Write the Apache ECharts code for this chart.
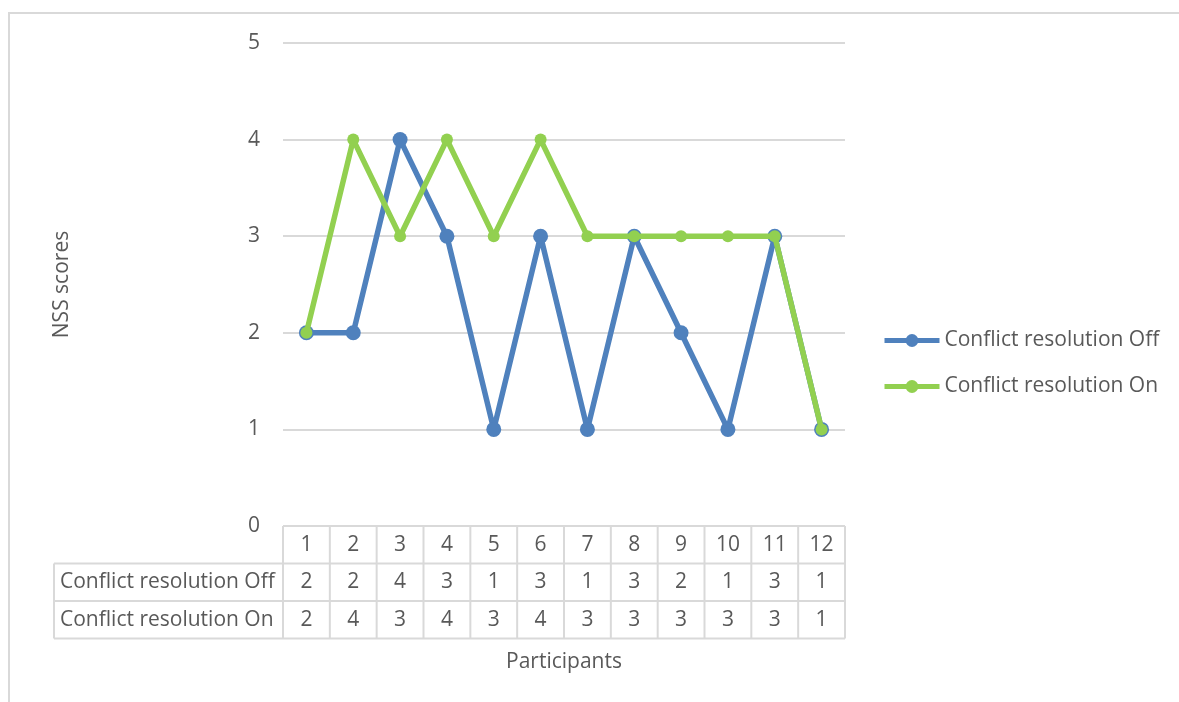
<!DOCTYPE html>
<html>
<head>
<meta charset="utf-8">
<script src="https://cdn.jsdelivr.net/npm/echarts@6/dist/echarts.min.js"></script>
<style>
html,body{margin:0;padding:0;background:#fff;}
#c{width:1179px;height:702px;}
</style>
</head>
<body>
<div id="c"></div>
<script>
const categories = ['1','2','3','4','5','6','7','8','9','10','11','12'];
const seriesNames = ['Conflict resolution Off', 'Conflict resolution On'];
const offValues = [2, 2, 4, 3, 1, 3, 1, 3, 2, 1, 3, 1];
const onValues  = [2, 4, 3, 4, 3, 4, 3, 3, 3, 3, 3, 1];
const yAxisName = 'NSS scores';
const xAxisName = 'Participants';

const FONT = '"Open Sans", sans-serif';
const TXT = '#595959';
const LINE = '#d9d9d9';
const FS = 21;
const BLUE = '#4f81bd';
const GREEN = '#92d050';

const chart = echarts.init(document.getElementById('c'), null, {renderer: 'canvas'});

const option = {
  backgroundColor: '#fff',
  animation: false,
  textStyle: {fontFamily: FONT},
  grid: {left: 283, right: 334, top: 43, bottom: 176, containLabel: false},
  legend: {
    orient: 'vertical',
    left: 882,
    top: 330,
    padding: 0,
    itemWidth: 55,
    itemHeight: 16,
    itemGap: 25,
    lineStyle: {width: 5},
    textStyle: {fontFamily: FONT, fontSize: FS, color: TXT, lineHeight: 16},
    data: seriesNames
  },
  xAxis: {
    type: 'category',
    data: categories,
    boundaryGap: true,
    axisLine: {show: false},
    axisTick: {show: false},
    axisLabel: {show: false},
    name: xAxisName,
    nameLocation: 'middle',
    nameGap: 126,
    nameTextStyle: {fontFamily: FONT, fontSize: FS, color: TXT}
  },
  yAxis: {
    type: 'value',
    min: 0, max: 5, interval: 1,
    axisLine: {show: false},
    axisTick: {show: false},
    axisLabel: {fontFamily: FONT, fontSize: FS, color: TXT, margin: 23},
    splitLine: {lineStyle: {color: LINE, width: 2}},
    name: yAxisName,
    nameLocation: 'middle',
    nameGap: 210,
    nameRotate: 90,
    nameTextStyle: {fontFamily: FONT, fontSize: FS, color: TXT}
  },
  series: [
    {
      name: seriesNames[0],
      type: 'line',
      data: offValues,
      symbol: 'circle',
      symbolSize: 15,
      color: BLUE,
      lineStyle: {width: 5.5, color: BLUE},
      itemStyle: {color: BLUE},
      z: 2
    },
    {
      name: seriesNames[1],
      type: 'line',
      data: onValues,
      symbol: 'circle',
      symbolSize: 12,
      color: GREEN,
      lineStyle: {width: 5.5, color: GREEN},
      itemStyle: {color: GREEN},
      z: 3
    }
  ]
};

chart.setOption(option);

// Build the data table under the plot from the axis scale
function buildTable() {
  const g = [];
  const x0 = chart.convertToPixel({xAxisIndex: 0}, 0);
  const x1 = chart.convertToPixel({xAxisIndex: 0}, 1);
  const cw = x1 - x0;
  const left = x0 - cw / 2;
  const right = left + cw * categories.length;
  const top = chart.convertToPixel({yAxisIndex: 0}, 0);
  const rh = 37.5;
  const labelLeft = 54;
  const ls = {stroke: LINE, lineWidth: 2};
  const rows = [offValues, onValues];

  // frame border of the chart area
  g.push({type: 'rect', shape: {x: 9, y: 13, width: 1300, height: 900}, style: {fill: null, stroke: LINE, lineWidth: 2}, silent: true, z: -1});

  // horizontal lines
  g.push({type: 'line', shape: {x1: left, y1: top, x2: right, y2: top}, style: ls});
  for (let r = 1; r <= 3; r++) {
    g.push({type: 'line', shape: {x1: labelLeft, y1: top + rh * r, x2: right, y2: top + rh * r}, style: ls});
  }
  // vertical lines
  g.push({type: 'line', shape: {x1: labelLeft, y1: top + rh, x2: labelLeft, y2: top + rh * 3}, style: ls});
  for (let i = 0; i <= categories.length; i++) {
    const x = left + cw * i;
    g.push({type: 'line', shape: {x1: x, y1: top, x2: x, y2: top + rh * 3}, style: ls});
  }
  // header texts
  categories.forEach((c, i) => {
    g.push({type: 'text', x: left + cw * (i + 0.5), y: top + rh * 0.5,
      style: {text: c, fill: TXT, font: FS + 'px ' + FONT, align: 'center', verticalAlign: 'middle'}});
  });
  // row texts
  rows.forEach((vals, r) => {
    const cy = top + rh * (r + 1.5);
    g.push({type: 'text', x: labelLeft + 6, y: cy,
      style: {text: seriesNames[r], fill: TXT, font: FS + 'px ' + FONT, align: 'left', verticalAlign: 'middle'}});
    vals.forEach((v, i) => {
      g.push({type: 'text', x: left + cw * (i + 0.5), y: cy,
        style: {text: String(v), fill: TXT, font: FS + 'px ' + FONT, align: 'center', verticalAlign: 'middle'}});
    });
  });
  chart.setOption({graphic: {elements: g}});
}
buildTable();
</script>
</body>
</html>
